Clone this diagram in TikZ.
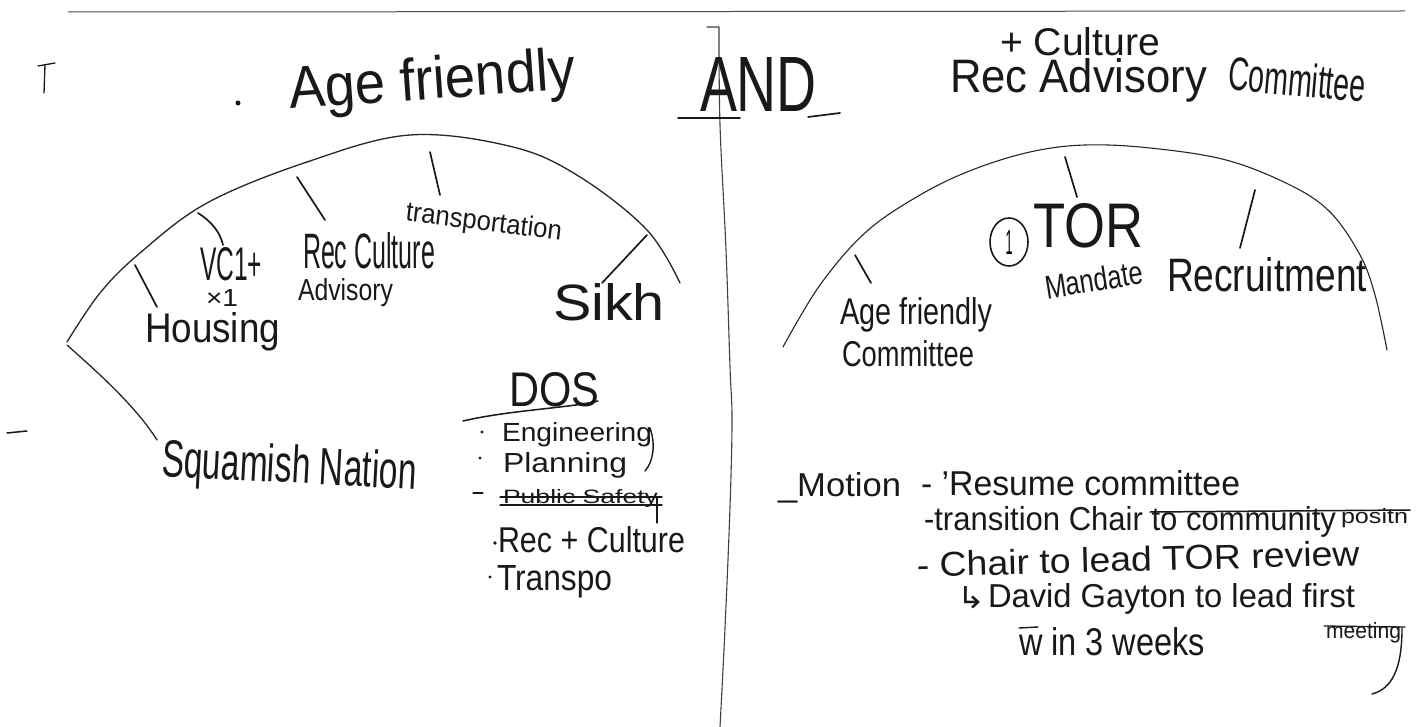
\documentclass[tikz,border=0pt]{standalone}
\usepackage{fontspec}
\setmainfont{Liberation Sans}
\newfontfamily\symfont{DejaVu Sans}
\usepackage{graphicx}
\usetikzlibrary{shapes.geometric}
\newcommand\hw[3]{\resizebox{#1pt}{#2pt}{#3}}
\begin{document}
\begin{tikzpicture}[x=1pt,y=-1pt,
  hw/.style={inner sep=0pt, outer sep=0pt, anchor=base west, text=black!90},
  mk/.style={line width=1.7pt, line cap=round, line join=round, black!90},
  arcl/.style={line width=1.3pt, line cap=round, line join=round, black!85},
  dotmk/.style={fill=black!90, draw=none}]
\fill[white] (0,0) rectangle (1420,727);
\useasboundingbox (0,0) rectangle (1420,727);

% board frame lines
\draw[line width=1pt, black!70] (68,12) -- (1405,11);
\draw[arcl, line width=1.1pt, black!75] (707,27) -- (719,27)
  plot[smooth, tension=0.6] coordinates {(719,27) (720,125) (726,250) (730,367) (732,420) (730,507) (725,628) (720,727)};
\draw[mk, line width=1.3pt] (38,66) -- (55,63);
\draw[mk, line width=1.3pt] (45,65) -- (44,93);
\draw[mk, line width=1.5pt] (7,433) -- (27,431);

% ---------------- left half ----------------
\fill[dotmk] (238,103) circle (2.5);
\node[hw, rotate=4] (agefr) at (290,109) {\hw{287}{43}{Age friendly}};

\draw[arcl] plot[smooth, tension=0.6] coordinates {(67,342) (100,293) (140,253) (207,203) (307,162) (410,135) (513,147) (580,177) (647,230) (680,283)};
\draw[arcl] (67,345) .. controls (95,370) and (135,405) .. (157,440);

% radial ticks
\draw[mk] (135,265) -- (157,307);
\draw[mk] (198,213) .. controls (212,222) and (220,232) .. (223,245);
\draw[mk] (297,177) -- (325,220);
\draw[mk] (430,152) -- (440,195);
\draw[mk] (647,235) -- (602,283);

\node[hw] (vc) at (200,280) {\hw{62}{33}{VC1+}};
\node[hw] (x1) at (206,306) {\hw{32}{17}{×1}};
\node[hw] (housing) at (145,342) {\hw{135}{30}{Housing}};
\node[hw] (reccult) at (303,268) {\hw{132}{36}{Rec Culture}};
\node[hw] (advis) at (298,300) {\hw{95}{22}{Advisory}};
\node[hw, rotate=-7] (transp) at (405,221) {\hw{157}{20}{transportation}};
\node[hw] (sikh) at (553,320) {\hw{112}{37}{Sikh}};
\node[hw, rotate=-3] (squam) at (161,476) {\hw{255}{38}{Squamish Nation}};

% DOS list
\node[hw] (dos) at (509,406) {\hw{90}{34}{DOS}};
\draw[mk, line width=1.5pt] (463,421) .. controls (510,410) and (570,408) .. (598,401);
\fill[dotmk] (482,432) circle (1.6);
\fill[dotmk] (480,458) circle (1.6);
\fill[dotmk] (495,543) circle (1.8);
\fill[dotmk] (490,577) circle (1.6);
\draw[mk, line width=1.2pt] (473,493) -- (483,493);
\node[hw] (eng) at (502,441) {\hw{150}{19}{Engineering}};
\draw[mk, line width=1.4pt] (650,428) .. controls (656,445) and (653,462) .. (645,471);
\node[hw] (plan) at (503,472) {\hw{124}{20}{Planning}};
\node[hw] (pubs) at (503,503) {\hw{155}{14}{Public Safety}};
\draw[mk, line width=1.3pt] (500,497) -- (662,497);
\draw[mk, line width=1.3pt] (500,505) -- (662,505);
\draw[mk, line width=1.3pt] (657,497) -- (657,523);
\node[hw] (rc2) at (498,552) {\hw{187}{26}{Rec + Culture}};
\node[hw] (transpo) at (497,590) {\hw{115}{25}{Transpo}};

% ---------------- right half ----------------
\node[hw] (and) at (700,112) {\hw{117}{54}{AND}};
\draw[mk] (678,118) -- (740,118);
\draw[mk] (808,117) -- (840,113);

\node[hw] (cult) at (1000,56) {\hw{160}{28}{+ Culture}};
\node[hw] (recadv) at (950,93) {\hw{257}{34}{Rec Advisory}};
\node[hw, rotate=-5] (comm) at (1227,90) {\hw{138}{34}{Committee}};

\draw[arcl, line width=1.1pt] plot[smooth, tension=0.6] coordinates {(783,347) (820,285) (866,232) (920,195) (972,170) (1030,152) (1085,145) (1150,148) (1226,160) (1290,185) (1330,212) (1360,255) (1375,295) (1387,350)};
\draw[mk] (1065,157) -- (1077,197);
\draw[mk] (1255,190) -- (1240,248);
\draw[mk] (855,255) -- (871,283);

\node[draw=black!90, line width=1.6pt, ellipse, minimum width=38pt, minimum height=48pt, inner sep=0pt] (one) at (1009,242) {\hw{7}{24}{1}};
\node[hw] (tor) at (1033,247) {\hw{110}{44}{TOR}};
\node[hw, rotate=9] (mand) at (1047,299) {\hw{99}{24}{Mandate}};
\node[hw] (recr) at (1167,291) {\hw{200}{34}{Recruitment}};
\node[hw] (agec) at (840,324) {\hw{152}{27}{Age friendly}};
\node[hw] (commc) at (842,366) {\hw{132}{26}{Committee}};

% motion block
\node[hw] (motion) at (778,496) {\hw{123}{24}{\_Motion}};
\node[hw] (resume) at (921,495) {\hw{319}{25}{- 'Resume committee}};
\node[hw] (trans) at (924,530) {\hw{412}{24}{-transition Chair to community}};
\node[hw] (posit) at (1341,523) {\hw{67}{15}{positn}};
\draw[mk, line width=1.5pt] (1150,512) -- (1410,510);
\node[hw, rotate=1.5] (chair) at (917,577) {\hw{443}{25}{- Chair to lead TOR review}};
\node[hw] (arrow) at (957,608) {\hw{28}{22}{\symfont ↳}};
\node[hw] (david) at (988,607) {\hw{367}{24}{David Gayton to lead first}};
\node[hw] (weeks) at (1019,655) {\hw{186}{28}{w in 3 weeks}};
\draw[mk, line width=1.4pt] (1019,628) -- (1038,627);
\node[hw] (meet) at (1326,638) {\hw{75}{16}{meeting}};
\draw[mk, line width=1.3pt] (1324,626) -- (1405,627);
\draw[mk, line width=1.4pt] (1402,628) .. controls (1402,660) and (1396,688) .. (1372,694);
\end{tikzpicture}
\end{document}
